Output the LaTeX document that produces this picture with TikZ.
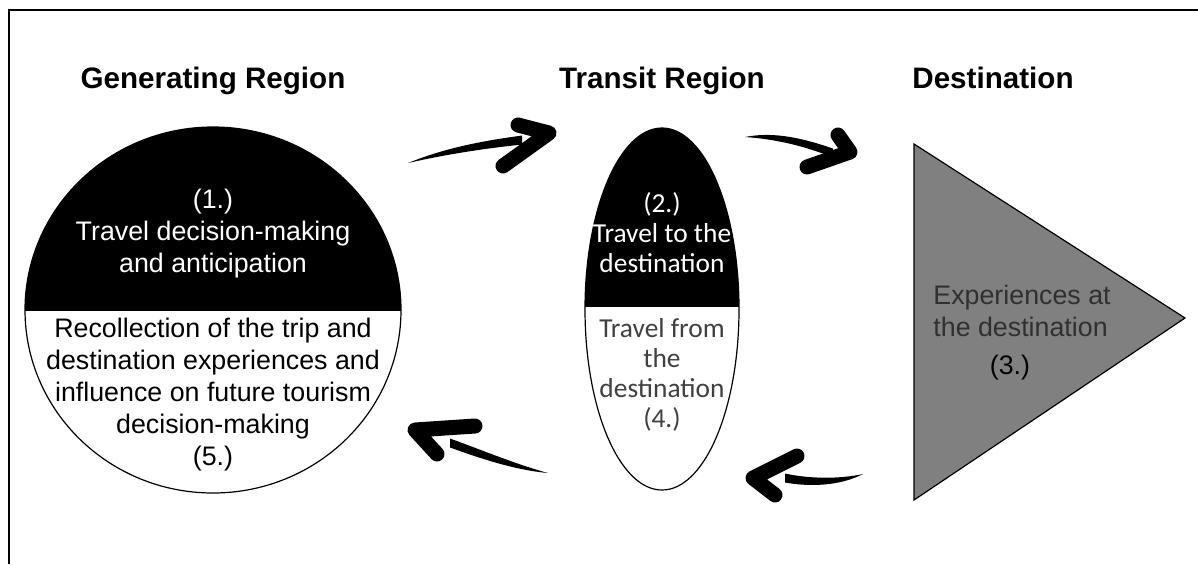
\documentclass[tikz,border=0pt]{standalone}
\usepackage{fontspec}
\setmainfont{Liberation Sans}
\newfontfamily\calfont{Carlito}
\usetikzlibrary{calc}

\definecolor{txtgray}{HTML}{404040}
\definecolor{tritext}{HTML}{303030}
\definecolor{trigray}{HTML}{808080}

\tikzset{
  regtitle/.style={font=\fontsize{14.8}{17}\selectfont\bfseries, inner sep=0pt},
  arialtext/.style={font=\fontsize{13.4}{16}\selectfont, align=center, inner sep=0pt},
  calitext/.style={font=\calfont\fontsize{13.7}{15}\selectfont, align=center, inner sep=0pt},
  brushhead/.style={line width=7.5pt, line cap=round, line join=round},
}

\begin{document}
\begin{tikzpicture}[x=0.5pt,y=-0.5pt]
\useasboundingbox (0,0) rectangle (1198,564);
% frame
\draw[line width=1pt] (9,564) -- (9,10) -- (1198,10);

% titles
\node[regtitle, anchor=base] (gentitle) at (213,88) {Generating Region};
\node[regtitle, anchor=base] (trantitle) at (662,88) {Transit Region};
\node[regtitle, anchor=base west] (desttitle) at (912,88) {Destination};

% generating region
\begin{scope}
  \clip (0,0) rectangle (1198,310);
  \fill (213,310) ellipse [x radius=188, y radius=183];
\end{scope}
\draw[line width=0.6pt] (213,310) ellipse [x radius=188, y radius=183];
\node[arialtext, text=white] (gentop) at (213,234)
  {(1.)\\Travel decision-making\\and anticipation};
\node[arialtext] (genbot) at (213,395)
  {Recollection of the trip and\\destination experiences and\\influence on future tourism\\decision-making\\(5.)};

% transit region
\begin{scope}
  \clip (0,0) rectangle (1198,306);
  \fill (662,309) ellipse [x radius=77, y radius=181];
\end{scope}
\draw[line width=0.6pt] (662,309) ellipse [x radius=77, y radius=181];
\node[calitext, text=white] (trantop) at (662,233)
  {(2.)\\Travel to the\\destination};
\node[calitext, text=txtgray] (tranbot) at (662,375)
  {Travel from\\the\\destination\\(4.)};

% destination
\draw[line width=0.6pt, fill=trigray] (914,144) -- (1185,318) -- (914,500) -- cycle;
\node[arialtext, text=tritext, align=left, anchor=west] (destexp) at (933,311)
  {Experiences at\\the destination};
\node[arialtext] (destnum) at (1010,368) {(3.)};

% brush arrows
\coordinate (a1t) at (408,163);
\coordinate (a1e) at (522,140);
\coordinate (a1h) at (549,133);
\fill (a1t) .. controls (450,146) and (490,140) .. ($(a1e)+(0,-4.5)$)
  -- ($(a1e)+(0,4.5)$) .. controls (490,148) and (452,153) .. (a1t);
\draw[brushhead] (518,125) -- (a1h) -- (503,166);

\coordinate (a2t) at (745,137);
\coordinate (a2e) at (833,153);
\coordinate (a2h) at (850,152);
\fill (a2t) .. controls (775,131) and (805,139) .. ($(a2e)+(0,-4.5)$)
  -- ($(a2e)+(0,4.5)$) .. controls (805,146) and (775,139) .. (a2t);
\draw[brushhead] (838,135) -- (a2h) -- (807,167);

\coordinate (a3t) at (863,474);
\coordinate (a3e) at (785,478);
\coordinate (a3h) at (753,478);
\fill (a3t) .. controls (840,486) and (810,487) .. ($(a3e)+(0,4.5)$)
  -- ($(a3e)+(0,-4.5)$) .. controls (810,479) and (840,479) .. (a3t);
\draw[brushhead] (797,456) -- (a3h) -- (775,495);

\coordinate (a4t) at (548,473);
\coordinate (a4e) at (450,443);
\coordinate (a4h) at (415,430);
\fill (a4t) .. controls (515,470) and (482,459) .. ($(a4e)+(0,4.5)$)
  -- ($(a4e)+(0,-4.5)$) .. controls (482,450) and (515,464) .. (a4t);
\draw[brushhead] (475,426) -- (a4h) -- (437,454);
\end{tikzpicture}
\end{document}
